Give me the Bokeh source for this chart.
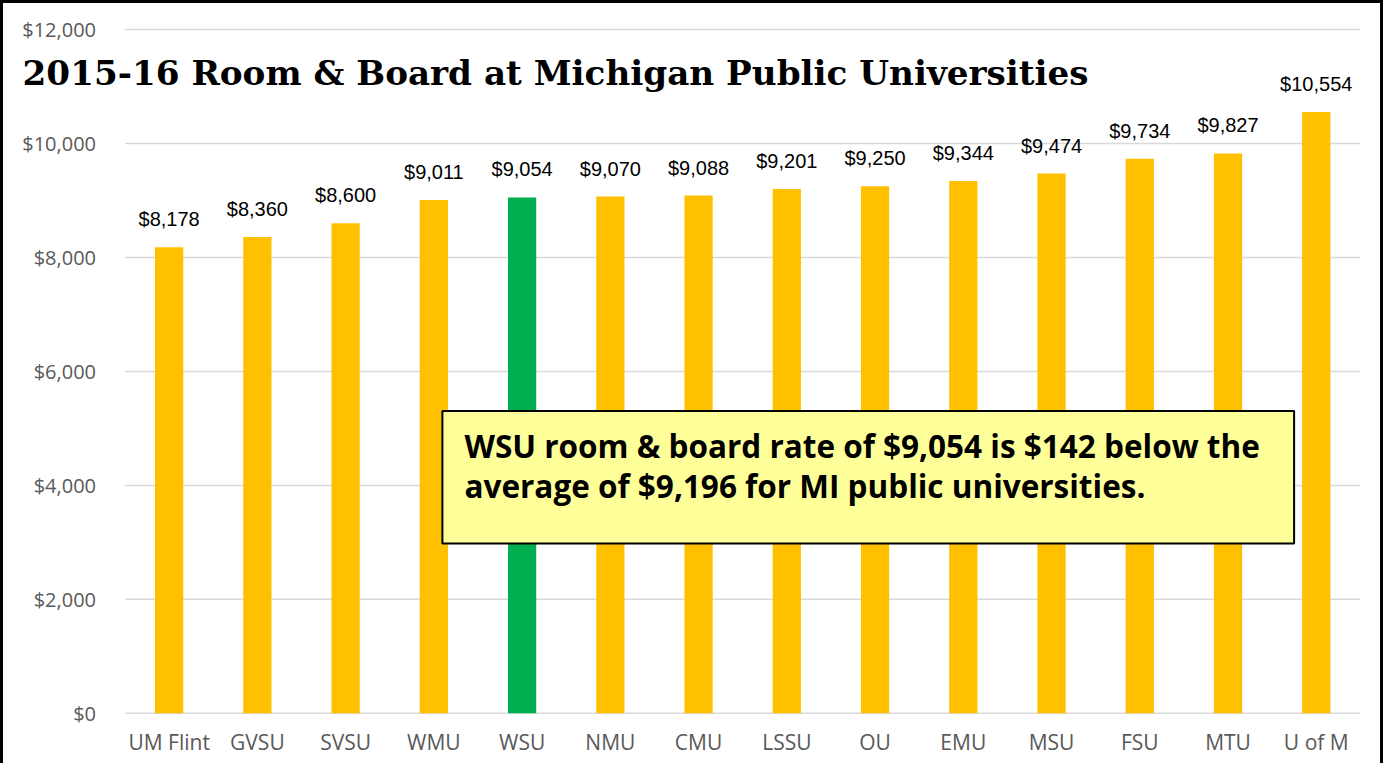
from bokeh.plotting import figure
from bokeh.models import ColumnDataSource, Range1d, Label, BoxAnnotation
from bokeh.core.properties import value
from bokeh.embed import file_html
from bokeh.resources import INLINE

universities = ["UM Flint", "GVSU", "SVSU", "WMU", "WSU", "NMU", "CMU", "LSSU",
                "OU", "EMU", "MSU", "FSU", "MTU", "U of M"]
room_board = [8178, 8360, 8600, 9011, 9054, 9070, 9088, 9201, 9250, 9344,
              9474, 9734, 9827, 10554]
y_ticks = [0, 2000, 4000, 6000, 8000, 10000, 12000]
highlight = "WSU"
title_text = "2015-16 Room & Board at Michigan Public Universities"
note_lines = ["WSU room & board rate of $9,054 is $142 below the",
              "average of $9,196 for MI public universities."]

n = len(universities)
pos = [i + 0.5 for i in range(n)]
colors = ["#00B050" if u == highlight else "#FFC000" for u in universities]
labels = ["${:,}".format(v) for v in room_board]
src = ColumnDataSource(dict(x=pos, v=room_board, c=colors, lab=labels))

PX = 87.857            # pixels per category slot
YPX = 681 / 12000.0    # pixels per dollar
# page coordinates of the plotting area: x 132..1362, y 37 (top) .. 718 (zero)
p = figure(x_range=Range1d(-121 / PX, n + 26 / PX),
           y_range=Range1d(-(771 - 718) / YPX, 12000 + (37 - 11) / YPX),
           width=1383, height=763, output_backend="svg", toolbar_location=None,
           x_axis_location=None, y_axis_location=None,
           min_border_left=0, min_border_right=0, min_border_top=0,
           min_border_bottom=0)
p.styles = {"border-top": "3px solid black", "border-left": "3px solid black",
            "border-right": "3px solid black"}
p.outline_line_color = None
p.background_fill_color = "white"
p.border_fill_color = "white"
p.grid.grid_line_color = None

# horizontal gridlines and y tick labels
p.segment(x0=0, x1=n, y0=y_ticks, y1=y_ticks, line_color="#D9D9D9",
          line_width=1.5, level="underlay")
p.text(x=[0] * len(y_ticks), y=y_ticks, text=["${:,}".format(t) for t in y_ticks],
       x_offset=-29, text_align="right", text_baseline="middle",
       text_font=value("Open Sans"), text_font_size="20px", text_color="#595959")

# category labels
p.text(x=pos, y=[0] * n, text=universities, y_offset=29, text_align="center",
       text_baseline="middle", text_font=value("Open Sans"),
       text_font_size="21px", text_color="#595959")

p.vbar(x="x", top="v", width=0.32, color="c", source=src, line_color=None)
p.text(x="x", y="v", text="lab", source=src, text_align="center",
       text_baseline="alphabetic", y_offset=-28,
       text_font=value("Liberation Sans"), text_font_size="20px",
       text_color="black")

p.add_layout(Label(x=(30 - 132) / PX, y=(718 - 80) / YPX, text=title_text,
                   text_font="DejaVu Serif", text_font_style="bold",
                   text_font_size="34.2px", text_color="black",
                   text_baseline="alphabetic"))

p.add_layout(BoxAnnotation(left=(448 - 132) / PX, right=(1296 - 132) / PX,
                           bottom=(718 - 549) / YPX, top=(718 - 417) / YPX,
                           fill_color="#FFFF99", fill_alpha=1.0,
                           line_color="black", line_alpha=1.0, line_width=2,
                           level="overlay"))
for i, line in enumerate(note_lines):
    p.add_layout(Label(x=(470 - 132) / PX, y=(718 - 451 - 40 * i) / YPX,
                       text=line, text_font="Open Sans", text_font_style="bold",
                       text_font_size="31.5px", text_color="black",
                       text_baseline="alphabetic", level="overlay"))

open("out.html", "w").write(file_html(p, INLINE))
